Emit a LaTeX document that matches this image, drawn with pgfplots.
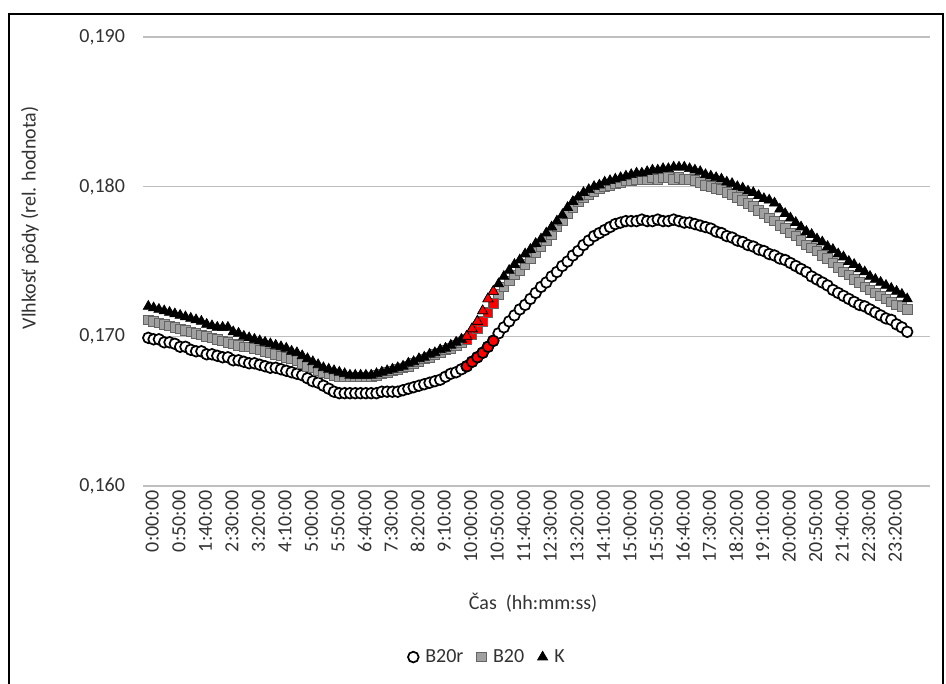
\documentclass[border=0pt]{standalone}
\usepackage{fontspec}
\setmainfont{Carlito}
\usepackage{pgfplots}
\pgfplotsset{compat=1.18}
\usepackage{pgfplotstable}
\definecolor{gridc}{RGB}{191,191,191}
\definecolor{sqfill}{RGB}{160,160,160}
\definecolor{sqdraw}{RGB}{100,100,100}
\definecolor{txt}{RGB}{50,50,50}
\pgfplotstableread{
i r b k
0 .1699 .1711 .1720
1 .1698 .1710 .1719
2 .1698 .1709 .1718
3 .1696 .1708 .1717
4 .1696 .1707 .1716
5 .1695 .1706 .1715
6 .1693 .1705 .1714
7 .1693 .1704 .1713
8 .1691 .1703 .1712
9 .1690 .1702 .1711
10 .1690 .1701 .1710
11 .1688 .1700 .1708
12 .1688 .1699 .1707
13 .1687 .1698 .1706
14 .1686 .1697 .1706
15 .1686 .1696 .1706
16 .1684 .1695 .1703
17 .1684 .1694 .1702
18 .1683 .1693 .1700
19 .1682 .1693 .1699
20 .1682 .1692 .1698
21 .1681 .1691 .1697
22 .1680 .1690 .1696
23 .1679 .1689 .1695
24 .1679 .1688 .1694
25 .1678 .1687 .1693
26 .1677 .1686 .1692
27 .1676 .1685 .1690
28 .1675 .1684 .1689
29 .1674 .1682 .1687
30 .1672 .1680 .1685
31 .1670 .1679 .1683
32 .1669 .1677 .1681
33 .1667 .1676 .1679
34 .1665 .1675 .1678
35 .1663 .1674 .1677
36 .1662 .1673 .1676
37 .1662 .1673 .1675
38 .1662 .1673 .1674
39 .1662 .1673 .1674
40 .1662 .1673 .1674
41 .1662 .1673 .1674
42 .1662 .1673 .1674
43 .1662 .1674 .1675
44 .1663 .1675 .1676
45 .1663 .1676 .1677
46 .1663 .1677 .1678
47 .1663 .1678 .1679
48 .1664 .1679 .1680
49 .1665 .1680 .1682
50 .1666 .1682 .1683
51 .1667 .1683 .1685
52 .1668 .1685 .1686
53 .1669 .1686 .1688
54 .1670 .1688 .1689
55 .1671 .1689 .1691
56 .1673 .1691 .1692
57 .1675 .1692 .1694
58 .1676 .1694 .1696
59 .1678 .1696 .1698
60 .1680 .1698 .1700
61 .1683 .1701 .1705
62 .1686 .1705 .1710
63 .1689 .1710 .1717
64 .1693 .1716 .1725
65 .1697 .1722 .1730
66 .1702 .1728 .1735
67 .1706 .1733 .1740
68 .1710 .1737 .1744
69 .1714 .1741 .1748
70 .1718 .1744 .1751
71 .1721 .1748 .1755
72 .1725 .1752 .1758
73 .1729 .1756 .1762
74 .1733 .1760 .1765
75 .1736 .1764 .1769
76 .1740 .1768 .1773
77 .1743 .1773 .1777
78 .1747 .1777 .1781
79 .1750 .1782 .1786
80 .1754 .1786 .1790
81 .1757 .1790 .1793
82 .1761 .1793 .1796
83 .1764 .1795 .1798
84 .1767 .1797 .1800
85 .1769 .1799 .1801
86 .1771 .1800 .1803
87 .1773 .1801 .1804
88 .1775 .1802 .1805
89 .1776 .1803 .1806
90 .1777 .1804 .1807
91 .1777 .1804 .1808
92 .1777 .1805 .1809
93 .1778 .1805 .1809
94 .1777 .1805 .1810
95 .1777 .1806 .1811
96 .1778 .1805 .1811
97 .1777 .1806 .1812
98 .1777 .1806 .1812
99 .1778 .1805 .1813
100 .1777 .1806 .1813
101 .1776 .1805 .1813
102 .1776 .1805 .1812
103 .1775 .1804 .1811
104 .1774 .1803 .1810
105 .1773 .1801 .1808
106 .1772 .1800 .1807
107 .1770 .1799 .1806
108 .1769 .1798 .1805
109 .1767 .1796 .1803
110 .1766 .1795 .1802
111 .1764 .1793 .1800
112 .1763 .1791 .1799
113 .1761 .1789 .1797
114 .1760 .1787 .1796
115 .1758 .1784 .1794
116 .1757 .1782 .1792
117 .1755 .1779 .1791
118 .1754 .1777 .1789
119 .1752 .1774 .1785
120 .1751 .1772 .1782
121 .1749 .1769 .1779
122 .1747 .1767 .1776
123 .1745 .1764 .1773
124 .1743 .1761 .1770
125 .1740 .1759 .1768
126 .1738 .1757 .1765
127 .1736 .1754 .1763
128 .1734 .1752 .1760
129 .1731 .1749 .1758
130 .1729 .1746 .1755
131 .1727 .1743 .1753
132 .1725 .1741 .1750
133 .1723 .1738 .1748
134 .1721 .1736 .1745
135 .1720 .1733 .1743
136 .1718 .1731 .1740
137 .1716 .1729 .1738
138 .1714 .1727 .1736
139 .1712 .1725 .1734
140 .1711 .1723 .1732
141 .1708 .1721 .1730
142 .1706 .1720 .1728
143 .1703 .1718 .1725
}\data

\begin{document}
\begin{tikzpicture}
\useasboundingbox (0,0) rectangle (709.5pt,513pt);
\draw[line width=1.5pt] (6.75pt,-3pt) -- (6.75pt,502.5pt) -- (707.5pt,502.5pt) -- (707.5pt,-3pt);
\begin{axis}[
  at={(107.25pt,148.5pt)}, anchor=south west,
  scale only axis, width=590.25pt, height=336.75pt,
  xmin=-1, xmax=147.3, ymin=0.160, ymax=0.190,
  ytick={0.160,0.170,0.180,0.190},
  scaled y ticks=false,
  xtick={0,5,...,140},
  xticklabels={0:00:00,0:50:00,1:40:00,2:30:00,3:20:00,4:10:00,5:00:00,5:50:00,6:40:00,7:30:00,8:20:00,9:10:00,10:00:00,10:50:00,11:40:00,12:30:00,13:20:00,14:10:00,15:00:00,15:50:00,16:40:00,17:30:00,18:20:00,19:10:00,20:00:00,20:50:00,21:40:00,22:30:00,23:20:00},
  axis line style={draw=none},
  major tick length=0pt,
  ymajorgrids, grid style={gridc, line width=1.1pt},
  /pgf/number format/fixed, /pgf/number format/fixed zerofill,
  /pgf/number format/precision=3, /pgf/number format/use comma,
  /pgf/number format/assume math mode=true,
  tick label style={font=\fontsize{15}{18}\selectfont, text=txt},
  yticklabel style={xshift=-10pt},
  xticklabel style={rotate=90, anchor=east, yshift=-3pt},
  xlabel={Čas\ \ (hh:mm:ss)},
  xlabel style={at={(axis description cs:0.4956,-0.2606)}, anchor=center, font=\fontsize{15}{18}\selectfont, text=txt},
  ylabel={Vlhkosť pôdy (rel. hodnota)},
  ylabel style={at={(axis description cs:-0.1436,0.597)}, anchor=center, font=\fontsize{15}{18}\selectfont, text=txt},
  legend style={at={(axis description cs:0.438,-0.381)}, anchor=center, draw=none, legend columns=-1, font=\fontsize{15}{18}\selectfont, text=txt, /tikz/every even column/.append style={column sep=8pt}, /tikz/every odd column/.append style={column sep=3pt}},
  legend cell align=left,
]
\addplot[only marks, mark=*, mark size=4pt, mark options={draw=black, fill=white, line width=1.3pt}] table[x=i, y=r] {\data};
\addlegendentry{B20r}
\addplot[only marks, forget plot, mark=*, mark size=4pt, mark options={draw=black, fill=red, line width=1.3pt}, restrict x to domain=60:65] table[x=i, y=r] {\data};
\addplot[only marks, mark=square*, mark size=3.6pt, mark options={draw=sqdraw, fill=sqfill, line width=0.6pt}] table[x=i, y=b] {\data};
\addlegendentry{B20}
\addplot[only marks, forget plot, mark=square*, mark size=3.6pt, mark options={draw=sqdraw, fill=red, line width=0.6pt}, restrict x to domain=60:65] table[x=i, y=b] {\data};
\addplot[only marks, mark=triangle*, mark size=4.4pt, mark options={draw=black, fill=black, line width=0.5pt}] table[x=i, y=k] {\data};
\addlegendentry{K}
\addplot[only marks, forget plot, mark=triangle*, mark size=4.4pt, mark options={draw=black, fill=red, line width=0.5pt}, restrict x to domain=60:65] table[x=i, y=k] {\data};
\end{axis}
\end{tikzpicture}
\end{document}
